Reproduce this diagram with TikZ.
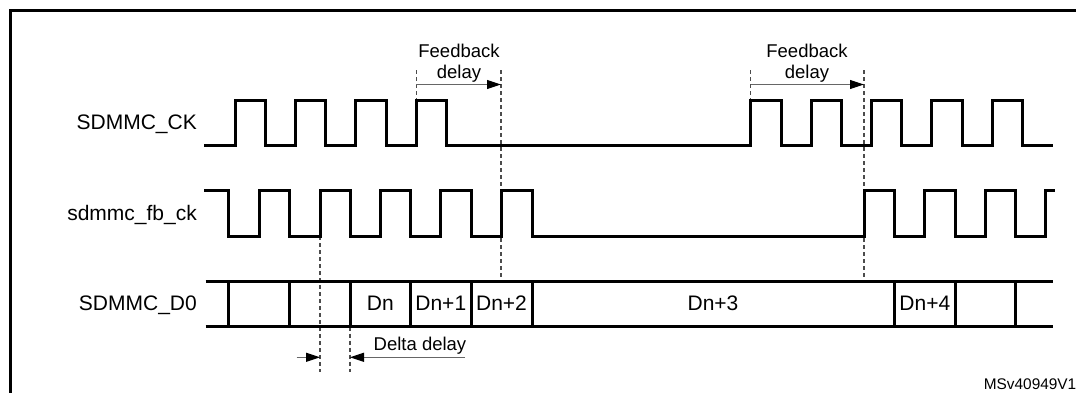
\documentclass[tikz,border=0pt]{standalone}
\usepackage{fontspec}
\setmainfont{Liberation Sans}
\usetikzlibrary{arrows.meta}
\begin{document}
\begin{tikzpicture}[x=1pt,y=-1pt,
  wave/.style={line width=3pt, line join=miter, draw=black},
  guide/.style={line width=1.1pt, draw=black!70, dash pattern=on 4pt off 3pt},
  dimarrow/.style={line width=1.1pt, draw=black!60, -{Triangle[length=14pt,width=9pt,color=black]}},
  siglabel/.style={font=\fontsize{21}{25}\selectfont, anchor=base east, inner sep=0pt},
  datalabel/.style={font=\fontsize{21}{25}\selectfont, anchor=base, inner sep=0pt},
  note/.style={font=\fontsize{18.5}{22}\selectfont, anchor=base, inner sep=0pt}]
\useasboundingbox (0,0) rectangle (1076,392);
\clip (0,0) rectangle (1076,392);
% frame
\draw[line width=3pt] (1100,10.5) -- (10.5,10.5) -- (10.5,420);

% signal labels
\node[siglabel] (lck) at (197,129.3) {SDMMC\_CK};
\node[siglabel] (lfb) at (197,220.5) {sdmmc\_fb\_ck};
\node[siglabel] (ld0) at (197,310.8) {SDMMC\_D0};

% guide lines (dashed)
\coordinate (g1t) at (416.3,70);   \coordinate (g1b) at (416.3,100);
\coordinate (g2t) at (501,70);     \coordinate (g2b) at (501,281);
\coordinate (g3t) at (750.7,70);   \coordinate (g3b) at (750.7,100);
\coordinate (g4t) at (864,70);     \coordinate (g4b) at (864,281);
\coordinate (g5t) at (320,236);    \coordinate (g5b) at (320,372);
\coordinate (g6t) at (350,326.7);  \coordinate (g6b) at (350,372);
\draw[guide] (g1t) -- (g1b);
\draw[guide] (g2t) -- (g2b);
\draw[guide] (g3t) -- (g3b);
\draw[guide] (g4t) -- (g4b);
\draw[guide] (g5t) -- (g5b);
\draw[guide] (g6t) -- (g6b);

% SDMMC_CK
\draw[wave] (204,145) -| (235,100) -| (265.3,145) -| (295.4,100) -| (325.7,145)
  -| (355.8,100) -| (386.1,145) -| (416.3,100) -| (446.6,145)
  -| (750.7,100) -| (781,145) -| (811,100) -| (841.3,145) -| (871.4,100)
  -| (901.7,145) -| (931.8,100) -| (962.1,145) -| (992.2,100) -| (1022.5,145)
  -- (1053,145);

% sdmmc_fb_ck
\draw[wave] (204,190.5) -| (228.8,236) -| (259.3,190.5) -| (289.5,236) -| (320,190.5)
  -| (350,236) -| (380.3,190.5) -| (410.6,236) -| (440.6,190.5) -| (471,236)
  -| (501,190.5) -| (532,236) -| (864,190.5) -| (894.5,236) -| (924.6,190.5)
  -| (955,236) -| (985,190.5) -| (1015.5,236) -| (1045.6,190.5) -- (1055,190.5);

% SDMMC_D0 bus
\draw[wave] (205.7,281) -- (1053,281);
\draw[wave] (205.7,326.7) -- (1053,326.7);
\foreach \x in {228.8,289.5,350,410.6,471,532,894.5,955,1015.5}
  \draw[wave] (\x,281) -- (\x,326.7);
\node[datalabel] (dn)  at (380.3,310.8) {Dn};
\node[datalabel] (dn1) at (440.8,310.8) {Dn+1};
\node[datalabel] (dn2) at (501.5,310.8) {Dn+2};
\node[datalabel] (dn3) at (713,310.8) {Dn+3};
\node[datalabel] (dn4) at (924.8,310.8) {Dn+4};

% feedback delay 1
\node[note] (fb1a) at (459,57.5) {Feedback};
\node[note] (fb1b) at (459,78.5) {delay};
\coordinate (a1s) at (416.3,84.5);
\coordinate (a1e) at (501,84.5);
\draw[dimarrow] (a1s) -- (a1e);

% feedback delay 2
\node[note] (fb2a) at (807,57.5) {Feedback};
\node[note] (fb2b) at (807,78.5) {delay};
\coordinate (a2s) at (750.7,84.5);
\coordinate (a2e) at (864,84.5);
\draw[dimarrow] (a2s) -- (a2e);

% delta delay
\coordinate (d1s) at (296.7,357.3);
\coordinate (d1e) at (320,357.3);
\draw[dimarrow] (d1s) -- (d1e);
\coordinate (d2s) at (465,357.3);
\coordinate (d2e) at (350,357.3);
\draw[dimarrow] (d2s) -- (d2e);
\node[note, anchor=base west] (delta) at (373.5,350) {Delta delay};

% reference code
\node[font=\fontsize{15.4}{18}\selectfont, anchor=base east, inner sep=0pt] (code) at (1076.5,389) {MSv40949V1};
\end{tikzpicture}
\end{document}
